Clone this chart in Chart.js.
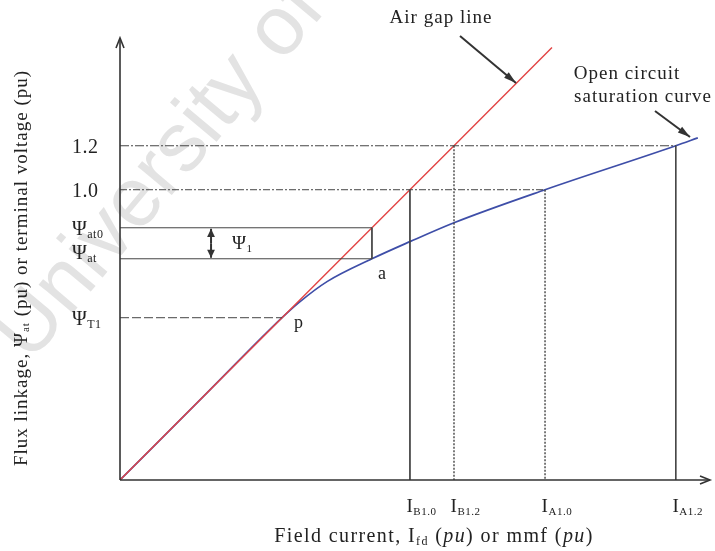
<!DOCTYPE html>
<html>
<head>
<script src="https://cdn.jsdelivr.net/npm/chart.js@4.4.0/dist/chart.umd.min.js"></script>
<style>
  body { margin: 0; background: #fff; }
</style>
</head>
<body>
<canvas id="occChart" width="715" height="551"></canvas>
<script>
// air gap line and open circuit saturation curve (pu, schematic)
const airGapX = [0, 1.0, 1.152, 1.49];
const airGapY = [-0.32, 1.0, 1.2, 1.647];
const occX = [0, 0.3, 0.559, 0.621, 0.714, 0.869, 1.0, 1.152, 1.466, 1.917, 1.993];
const occY = [-0.32, 0.076, 0.418, 0.491, 0.582, 0.686, 0.764, 0.85, 1.0, 1.2, 1.236];

// flux levels and field currents marked on the axes
const psiT1 = 0.418, psiAt = 0.686, psiAt0 = 0.827;
const pointP = 0.559, pointA = 0.869;
const iB10 = 1.0, iB12 = 1.152, iA10 = 1.466, iA12 = 1.917;
const yTicks = [1.2, 1.0, psiAt0, psiAt, psiT1];
const yTickLabels = [["1.2", ""], ["1.0", ""], ["Ψ", "at0"], ["Ψ", "at"], ["Ψ", "T1"]];
const xTicks = [iB10, iB12, iA10, iA12];
const xTickLabels = [["I", "B1.0"], ["I", "B1.2"], ["I", "A1.0"], ["I", "A1.2"]];
const xMin = 0, xMax = 2.035, yMin = -0.32, yMax = 1.69;

const SERIF = '"Liberation Serif", "DejaVu Serif", serif';
const GUIDE = "#444";

function toPts(xs, ys) {
    return xs.map((x, i) => ({x: x, y: ys[i]}));
}

function guide(points, dash, width) {
    return {
        data: points,
        showLine: true,
        borderColor: GUIDE,
        borderWidth: width || 1,
        borderDash: dash || [],
        pointRadius: 0,
        tension: 0
    };
}

// text with an optional subscript
function drawSub(ctx, main, sub, x, y, size, align) {
    ctx.font = size + "px " + SERIF;
    const w1 = ctx.measureText(main).width;
    const subSize = Math.round(size * 0.6);
    ctx.font = subSize + "px " + SERIF;
    const w2 = sub ? ctx.measureText(sub).width : 0;
    let x0 = x;
    if (align === "center") x0 = x - (w1 + w2) / 2;
    if (align === "anchor") x0 = x - w1 / 2;
    ctx.textAlign = "left";
    ctx.textBaseline = "alphabetic";
    ctx.font = size + "px " + SERIF;
    ctx.fillText(main, x0, y);
    if (sub) {
        ctx.font = subSize + "px " + SERIF;
        ctx.fillText(sub, x0 + w1, y + size * 0.15);
    }
}

// a run of pieces: {t, sub, it}, centred on x
function drawRich(ctx, parts, x, y, size) {
    const fontOf = p => (p.it ? "italic " : "") + (p.sub ? Math.round(size * 0.6) : size) + "px " + SERIF;
    let total = 0;
    parts.forEach(p => { ctx.font = fontOf(p); total += ctx.measureText(p.t).width; });
    let cx = x - total / 2;
    ctx.textAlign = "left";
    ctx.textBaseline = "middle";
    parts.forEach(p => {
        ctx.font = fontOf(p);
        ctx.fillText(p.t, cx, p.sub ? y + size * 0.22 : y);
        cx += ctx.measureText(p.t).width;
    });
}

function arrow(ctx, x1, y1, x2, y2, head, spread) {
    const ang = Math.atan2(y2 - y1, x2 - x1);
    const s = spread || 0.3;
    ctx.beginPath();
    ctx.moveTo(x1, y1);
    ctx.lineTo(x2, y2);
    ctx.stroke();
    ctx.beginPath();
    ctx.moveTo(x2, y2);
    ctx.lineTo(x2 - head * Math.cos(ang - s), y2 - head * Math.sin(ang - s));
    ctx.lineTo(x2 - head * Math.cos(ang + s), y2 - head * Math.sin(ang + s));
    ctx.closePath();
    ctx.fill();
}

const diagramPlugin = {
    id: "diagram",
    beforeDraw(chart) {
        const ctx = chart.ctx;
        ctx.save();
        ctx.fillStyle = "#fff";
        ctx.fillRect(0, 0, chart.width, chart.height);
        // background watermark
        ctx.translate(30, 364);
        ctx.rotate(-50 * Math.PI / 180);
        ctx.font = '84px "Liberation Sans", Arial, sans-serif';
        ctx.fillStyle = "#e3e3e3";
        ctx.textBaseline = "alphabetic";
        ctx.fillText("University of Cape Town", 0, 0);
        ctx.restore();
    },
    afterDatasetsDraw(chart) {
        const ctx = chart.ctx;
        const xs = chart.scales.x, ys = chart.scales.y;
        const area = chart.chartArea;
        const ox = area.left, oy = area.bottom;
        ctx.save();

        // axes with open arrow tips
        ctx.strokeStyle = "#333";
        ctx.fillStyle = "#333";
        ctx.lineWidth = 1.6;
        ctx.beginPath();
        ctx.moveTo(ox, oy);
        ctx.lineTo(ox, area.top);
        ctx.moveTo(ox, oy);
        ctx.lineTo(area.right, oy);
        ctx.stroke();
        ctx.beginPath();
        ctx.moveTo(ox - 4, area.top + 10);
        ctx.lineTo(ox, area.top);
        ctx.lineTo(ox + 4, area.top + 10);
        ctx.moveTo(area.right - 10, oy - 4);
        ctx.lineTo(area.right, oy);
        ctx.lineTo(area.right - 10, oy + 4);
        ctx.stroke();

        // axis labels
        ctx.fillStyle = "#222";
        ctx.letterSpacing = "0.5px";
        yTicks.forEach((v, i) => {
            const lab = yTickLabels[i];
            let py = ys.getPixelForValue(v) + 7;
            if (v === psiAt) py -= 7;
            drawSub(ctx, lab[0], lab[1], 72, py, 20, "left");
        });
        xTicks.forEach((v, i) => {
            const lab = xTickLabels[i];
            drawSub(ctx, lab[0], lab[1], xs.getPixelForValue(v), 512, 19, "anchor");
        });

        // psi_1 double arrow
        const ax = xs.getPixelForValue(0.314);
        const t = ys.getPixelForValue(psiAt0), b = ys.getPixelForValue(psiAt);
        ctx.strokeStyle = "#333";
        ctx.fillStyle = "#333";
        ctx.lineWidth = 2;
        arrow(ctx, ax, (t + b) / 2, ax, t + 1, 9, 0.45);
        arrow(ctx, ax, (t + b) / 2, ax, b - 1, 9, 0.45);
        ctx.fillStyle = "#222";
        drawSub(ctx, "Ψ", "1", ax + 21, (t + b) / 2 + 6, 19, "left");

        // point names
        ctx.font = "18px " + SERIF;
        ctx.textAlign = "left";
        ctx.textBaseline = "middle";
        ctx.fillText("p", xs.getPixelForValue(pointP) + 12, ys.getPixelForValue(psiT1) + 6);
        ctx.fillText("a", xs.getPixelForValue(pointA) + 6, ys.getPixelForValue(psiAt) + 15);

        // callouts
        ctx.letterSpacing = "1px";
        ctx.font = "19px " + SERIF;
        ctx.textAlign = "center";
        ctx.fillText("Air gap line", 441, 18);
        ctx.fillText("Open circuit", 627, 74);
        ctx.fillText("saturation curve", 643, 97);
        ctx.letterSpacing = "0px";
        ctx.strokeStyle = "#333";
        ctx.fillStyle = "#333";
        ctx.lineWidth = 2;
        arrow(ctx, 460, 36, 516, 83, 13, 0.28);
        arrow(ctx, 655, 111, 690, 137, 13, 0.28);

        // axis titles
        ctx.fillStyle = "#222";
        ctx.letterSpacing = "1.4px";
        drawRich(ctx, [
            {t: "Field current, I"}, {t: "fd", sub: true}, {t: " ("}, {t: "pu", it: true},
            {t: ") or mmf ("}, {t: "pu", it: true}, {t: ")"}
        ], 434, 537, 20);
        ctx.letterSpacing = "1px";
        ctx.translate(22, 268);
        ctx.rotate(-Math.PI / 2);
        drawRich(ctx, [
            {t: "Flux linkage, Ψ"}, {t: "at", sub: true},
            {t: " (pu) or terminal voltage (pu)"}
        ], 0, 0, 19);
        ctx.restore();
    }
};

new Chart(document.getElementById("occChart"), {
    type: "scatter",
    data: {
        datasets: [
            guide([{x: 0, y: 1.2}, {x: iA12, y: 1.2}], [9, 2, 2, 2]),
            guide([{x: iA12, y: 1.2}, {x: iA12, y: yMin}]),
            guide([{x: 0, y: 1.0}, {x: iA10, y: 1.0}], [7, 2, 2, 2]),
            guide([{x: iA10, y: 1.0}, {x: iA10, y: yMin}], [2, 1.5], 1.4),
            guide([{x: iB10, y: 1.0}, {x: iB10, y: yMin}]),
            guide([{x: iB12, y: 1.2}, {x: iB12, y: yMin}], [2, 1.5], 1.4),
            guide([{x: 0, y: psiAt0}, {x: pointA, y: psiAt0}, {x: pointA, y: psiAt}]),
            guide([{x: 0, y: psiAt}, {x: pointA, y: psiAt}]),
            guide([{x: 0, y: psiT1}, {x: pointP, y: psiT1}], [9, 3]),
            {
                label: "Air gap line",
                data: toPts(airGapX, airGapY),
                showLine: true,
                borderColor: "rgb(226, 68, 68)",
                borderWidth: 1.4,
                pointRadius: 0,
                tension: 0
            },
            {
                label: "Open circuit saturation curve",
                data: toPts(occX, occY),
                showLine: true,
                borderColor: "rgb(62, 78, 168)",
                borderWidth: 1.7,
                pointRadius: 0,
                cubicInterpolationMode: "monotone"
            }
        ]
    },
    options: {
        responsive: false,
        animation: false,
        layout: {padding: {left: 120, right: 5, top: 38, bottom: 71}},
        scales: {
            x: {type: "linear", min: xMin, max: xMax, display: false},
            y: {type: "linear", min: yMin, max: yMax, display: false}
        },
        plugins: {
            legend: {display: false},
            tooltip: {enabled: false}
        }
    },
    plugins: [diagramPlugin]
});
</script>
</body>
</html>
